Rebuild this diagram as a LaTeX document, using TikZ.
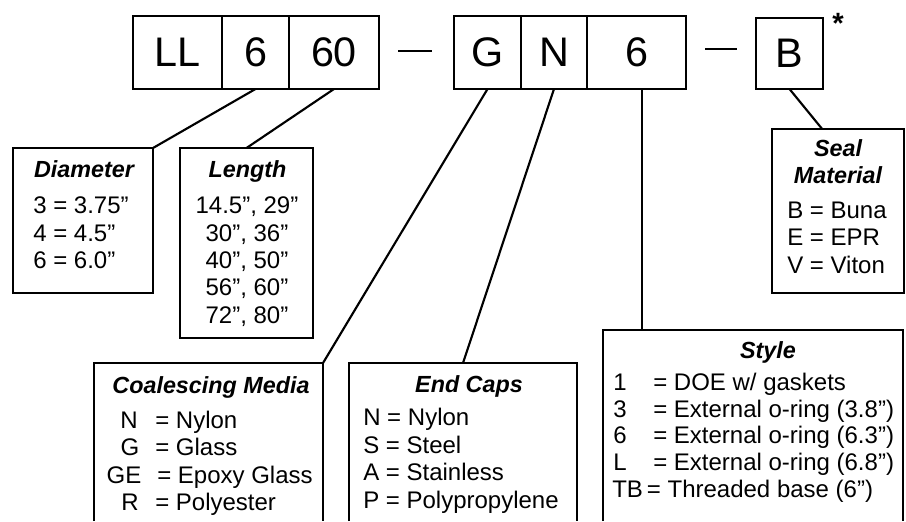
\documentclass[tikz,border=0pt]{standalone}
\usepackage{fontspec}
\setmainfont{Liberation Sans}
\usetikzlibrary{calc}
\tikzset{
  codebox/.style={draw, line width=1.6pt, inner sep=0pt, outer sep=0pt, minimum height=54.75pt, font=\fontsize{31}{36}\selectfont},
  infobox/.style={draw, line width=1.6pt, inner sep=0pt, outer sep=0pt},
  openbox/.style={draw=none, inner sep=0pt, outer sep=0pt},
  link/.style={line width=1.6pt},
  boxtitle/.style={anchor=base, inner sep=0pt, font=\fontsize{17.5}{21}\selectfont\bfseries\itshape},
  bodyL/.style={anchor=base west, inner sep=0pt, font=\fontsize{18}{21}\selectfont},
  bodyC/.style={anchor=base, inner sep=0pt, font=\fontsize{18}{21}\selectfont},
  dashline/.style={line width=2.2pt}
}
\begin{document}
\begin{tikzpicture}[x=0.75pt,y=-0.75pt]
\useasboundingbox (0,0) rectangle (906,521);
% code boxes
\node[codebox, minimum width=66.75pt] (cLL) at (177.5,52.5) {LL};
\node[codebox, minimum width=50.25pt] (c6a) at (255.5,52.5) {6};
\node[codebox, minimum width=67.5pt] (c60) at (334,52.5) {60};
\node[codebox, minimum width=50.25pt] (cG) at (487.5,52.5) {G};
\node[codebox, minimum width=49.5pt] (cN) at (554,52.5) {N};
\node[codebox, minimum width=74.25pt] (c6b) at (636.5,52.5) {6};
\node[codebox, minimum width=50.25pt, minimum height=53.25pt] (cB) at (789.5,53.5) {B};
\node[anchor=base, inner sep=0pt, font=\fontsize{22}{24}\selectfont\bfseries] (star) at (838,33) {*};
\draw[dashline] (398,51) -- (432,51);
\draw[dashline] (705,49) -- (737,49);
% info boxes
\node[infobox, minimum width=105pt, minimum height=108.75pt] (dia) at (83,220.5) {};
\node[infobox, minimum width=99.75pt, minimum height=142.5pt] (len) at (246.5,243) {};
\node[infobox, minimum width=99pt, minimum height=123pt] (seal) at (838,211) {};
\node[openbox, minimum width=171.75pt, minimum height=118.5pt] (coal) at (208.5,442) {};
\node[openbox, minimum width=171pt, minimum height=118.5pt] (caps) at (463,442) {};
\node[openbox, minimum width=225pt, minimum height=143.25pt] (sty) at (753,425.5) {};
\draw[link] (coal.south west) -- (coal.north west) -- (coal.north east) -- (coal.south east);
\draw[link] (caps.south west) -- (caps.north west) -- (caps.north east) -- (caps.south east);
\draw[link] (sty.south west) -- (sty.north west) -- (sty.north east) -- (sty.south east);
% connectors
\coordinate (styTop) at (642,330);
\draw[link] (c6a.south) -- (dia.north east);
\draw[link] (c60.south) -- (len.north);
\draw[link] (cG.south) -- (coal.north east);
\draw[link] (cN.south) -- (caps.north);
\draw[link] (c6b.south -| styTop) -- (styTop);
\draw[link] (cB.south) -- ($(seal.north west)!0.38!(seal.north east)$);
% Diameter
\node[boxtitle] (diaT) at (84,177) {Diameter};
\node[bodyL] (dia1) at (33,213.3) {3 = 3.75”};
\node[bodyL] (dia2) at (33,241) {4 = 4.5”};
\node[bodyL] (dia3) at (33,268) {6 = 6.0”};
% Length
\node[boxtitle] (lenT) at (247.5,177) {Length};
\node[bodyC] (len1) at (247,213.3) {14.5”, 29”};
\node[bodyC] (len2) at (247,241) {30”, 36”};
\node[bodyC] (len3) at (247,268) {40”, 50”};
\node[bodyC] (len4) at (247,295.5) {56”, 60”};
\node[bodyC] (len5) at (247,323) {72”, 80”};
% Seal
\node[boxtitle] (sealT1) at (838,156) {Seal};
\node[boxtitle] (sealT2) at (838,183) {Material};
\node[bodyL] (seal1) at (787,218) {B = Buna};
\node[bodyL] (seal2) at (787,245.5) {E = EPR};
\node[bodyL] (seal3) at (787,273) {V = Viton};
% Coalescing
\node[boxtitle] (coalT) at (211,393) {Coalescing Media};
\node[bodyC] (coalN) at (129,428) {N};
\node[bodyC] (coalG) at (130,455.5) {G};
\node[bodyC] (coalGE) at (124,483) {GE};
\node[bodyC] (coalR) at (130,510.5) {R};
\node[bodyL] (coal1) at (155,428) {= Nylon};
\node[bodyL] (coal2) at (155,455.5) {= Glass};
\node[bodyL] (coal3) at (157,483) {= Epoxy Glass};
\node[bodyL] (coal4) at (155,510.5) {= Polyester};
% End caps
\node[boxtitle] (capsT) at (469,392) {End Caps};
\node[bodyL] (caps1) at (363,425) {N = Nylon};
\node[bodyL] (caps2) at (363,453) {S = Steel};
\node[bodyL] (caps3) at (363,480) {A = Stainless};
\node[bodyL] (caps4) at (363,508) {P = Polypropylene};
% Style
\node[boxtitle] (styT) at (768,358) {Style};
\node[bodyL] (styc1) at (613,390) {1};
\node[bodyL] (styc2) at (613,417) {3};
\node[bodyL] (styc3) at (613,443.5) {6};
\node[bodyL] (styc4) at (613,470) {L};
\node[bodyL] (sty1) at (653,390) {= DOE w/ gaskets};
\node[bodyL] (sty2) at (653,417) {= External o-ring (3.8”)};
\node[bodyL] (sty3) at (653,443.5) {= External o-ring (6.3”)};
\node[bodyL] (sty4) at (653,470) {= External o-ring (6.8”)};
\node[bodyL] (sty5) at (612,497) {TB\,= Threaded base (6”)};
\end{tikzpicture}
\end{document}
